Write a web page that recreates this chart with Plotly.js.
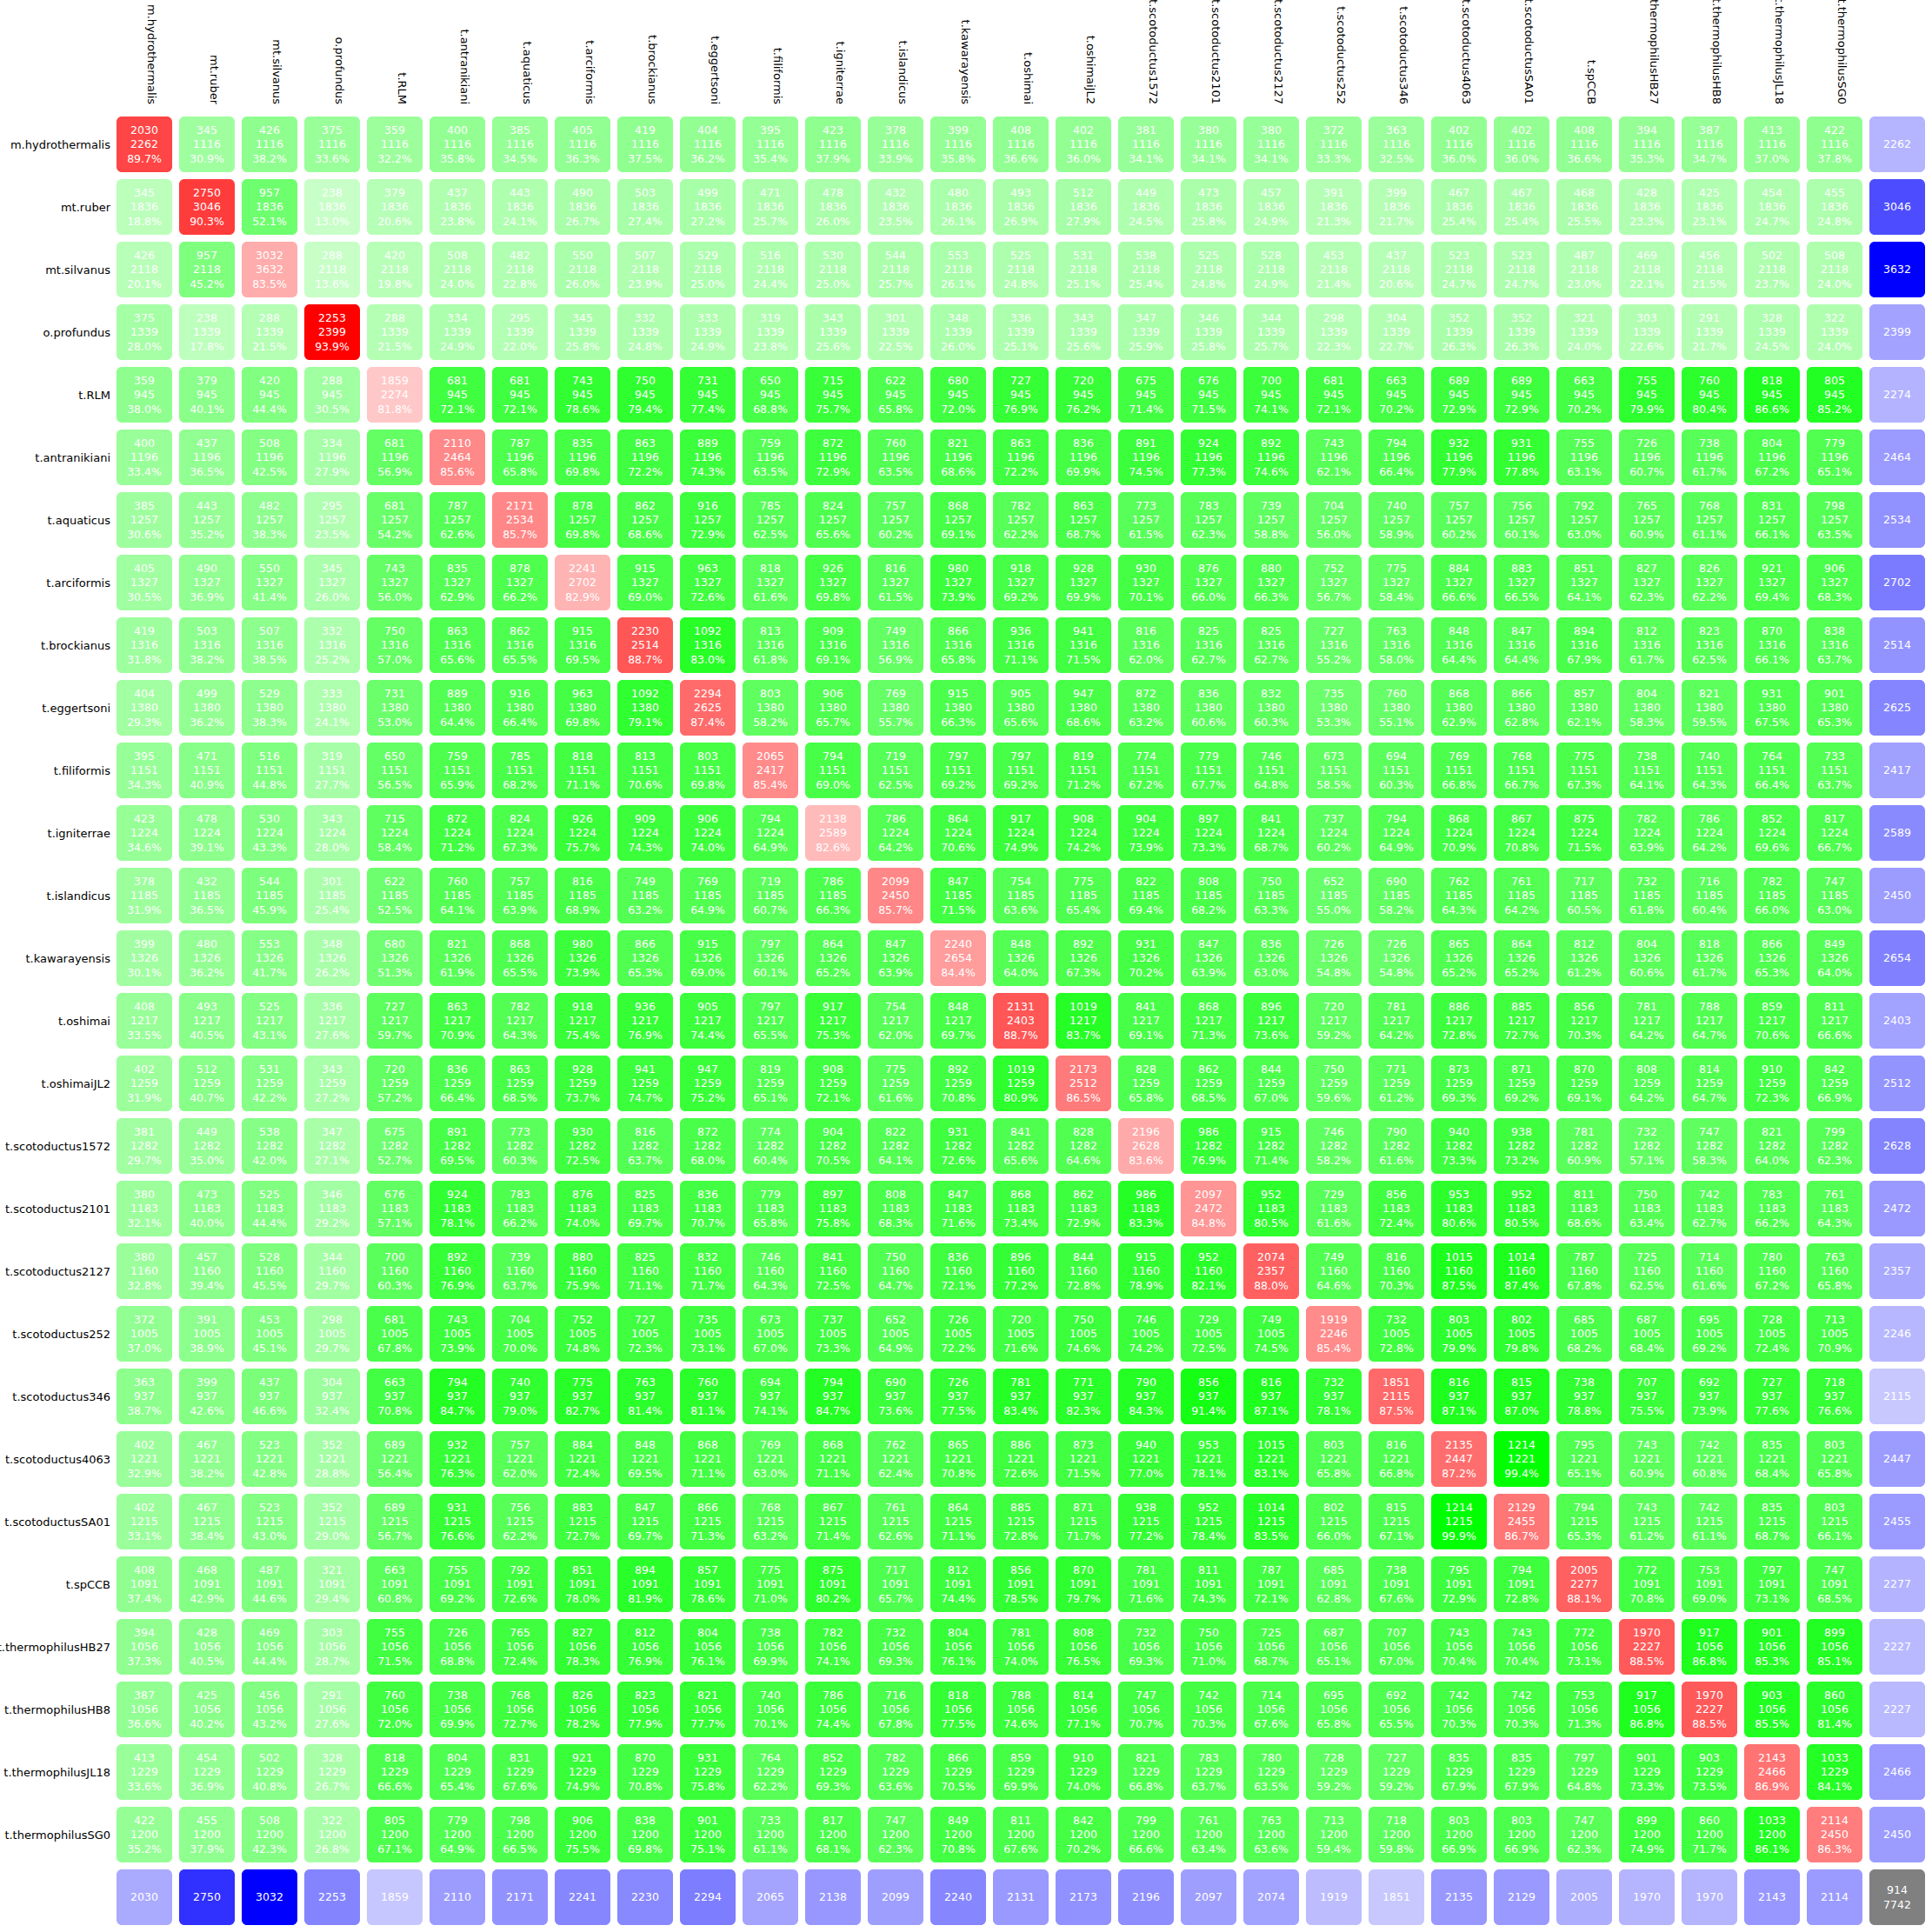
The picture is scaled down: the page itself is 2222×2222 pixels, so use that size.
<!DOCTYPE html>
<html><head><meta charset="utf-8">
<script src="https://cdn.plot.ly/plotly-3.0.1.min.js"></script>
<style>html,body{margin:0;padding:0;background:#fff}#chart{width:2222px;height:2222px}</style>
</head><body><div id="chart"></div>
<script>
const genomes = ["m.hydrothermalis","mt.ruber","mt.silvanus","o.profundus","t.RLM","t.antranikiani","t.aquaticus","t.arciformis","t.brockianus","t.eggertsoni","t.filiformis","t.igniterrae","t.islandicus","t.kawarayensis","t.oshimai","t.oshimaiJL2","t.scotoductus1572","t.scotoductus2101","t.scotoductus2127","t.scotoductus252","t.scotoductus346","t.scotoductus4063","t.scotoductusSA01","t.spCCB","t.thermophilusHB27","t.thermophilusHB8","t.thermophilusJL18","t.thermophilusSG0"];
// middle number of each off-diagonal cell (per row)
const rowGeneCounts = [1116,1836,2118,1339,945,1196,1257,1327,1316,1380,1151,1224,1185,1326,1217,1259,1282,1183,1160,1005,937,1221,1215,1091,1056,1056,1229,1200];
// right-hand totals column
const genomeTotals = [2262,3046,3632,2399,2274,2464,2534,2702,2514,2625,2417,2589,2450,2654,2403,2512,2628,2472,2357,2246,2115,2447,2455,2277,2227,2227,2466,2450];
// bottom totals row
const columnTotals = [2030,2750,3032,2253,1859,2110,2171,2241,2230,2294,2065,2138,2099,2240,2131,2173,2196,2097,2074,1919,1851,2135,2129,2005,1970,1970,2143,2114];
const cornerCore = 914;
const cornerPan = 7742;
const shared = [
[2030,345,426,375,359,400,385,405,419,404,395,423,378,399,408,402,381,380,380,372,363,402,402,408,394,387,413,422],
[345,2750,957,238,379,437,443,490,503,499,471,478,432,480,493,512,449,473,457,391,399,467,467,468,428,425,454,455],
[426,957,3032,288,420,508,482,550,507,529,516,530,544,553,525,531,538,525,528,453,437,523,523,487,469,456,502,508],
[375,238,288,2253,288,334,295,345,332,333,319,343,301,348,336,343,347,346,344,298,304,352,352,321,303,291,328,322],
[359,379,420,288,1859,681,681,743,750,731,650,715,622,680,727,720,675,676,700,681,663,689,689,663,755,760,818,805],
[400,437,508,334,681,2110,787,835,863,889,759,872,760,821,863,836,891,924,892,743,794,932,931,755,726,738,804,779],
[385,443,482,295,681,787,2171,878,862,916,785,824,757,868,782,863,773,783,739,704,740,757,756,792,765,768,831,798],
[405,490,550,345,743,835,878,2241,915,963,818,926,816,980,918,928,930,876,880,752,775,884,883,851,827,826,921,906],
[419,503,507,332,750,863,862,915,2230,1092,813,909,749,866,936,941,816,825,825,727,763,848,847,894,812,823,870,838],
[404,499,529,333,731,889,916,963,1092,2294,803,906,769,915,905,947,872,836,832,735,760,868,866,857,804,821,931,901],
[395,471,516,319,650,759,785,818,813,803,2065,794,719,797,797,819,774,779,746,673,694,769,768,775,738,740,764,733],
[423,478,530,343,715,872,824,926,909,906,794,2138,786,864,917,908,904,897,841,737,794,868,867,875,782,786,852,817],
[378,432,544,301,622,760,757,816,749,769,719,786,2099,847,754,775,822,808,750,652,690,762,761,717,732,716,782,747],
[399,480,553,348,680,821,868,980,866,915,797,864,847,2240,848,892,931,847,836,726,726,865,864,812,804,818,866,849],
[408,493,525,336,727,863,782,918,936,905,797,917,754,848,2131,1019,841,868,896,720,781,886,885,856,781,788,859,811],
[402,512,531,343,720,836,863,928,941,947,819,908,775,892,1019,2173,828,862,844,750,771,873,871,870,808,814,910,842],
[381,449,538,347,675,891,773,930,816,872,774,904,822,931,841,828,2196,986,915,746,790,940,938,781,732,747,821,799],
[380,473,525,346,676,924,783,876,825,836,779,897,808,847,868,862,986,2097,952,729,856,953,952,811,750,742,783,761],
[380,457,528,344,700,892,739,880,825,832,746,841,750,836,896,844,915,952,2074,749,816,1015,1014,787,725,714,780,763],
[372,391,453,298,681,743,704,752,727,735,673,737,652,726,720,750,746,729,749,1919,732,803,802,685,687,695,728,713],
[363,399,437,304,663,794,740,775,763,760,694,794,690,726,781,771,790,856,816,732,1851,816,815,738,707,692,727,718],
[402,467,523,352,689,932,757,884,848,868,769,868,762,865,886,873,940,953,1015,803,816,2135,1214,795,743,742,835,803],
[402,467,523,352,689,931,756,883,847,866,768,867,761,864,885,871,938,952,1014,802,815,1214,2129,794,743,742,835,803],
[408,468,487,321,663,755,792,851,894,857,775,875,717,812,856,870,781,811,787,685,738,795,794,2005,772,753,797,747],
[394,428,469,303,755,726,765,827,812,804,738,782,732,804,781,808,732,750,725,687,707,743,743,772,1970,917,901,899],
[387,425,456,291,760,738,768,826,823,821,740,786,716,818,788,814,747,742,714,695,692,742,742,753,917,1970,903,860],
[413,454,502,328,818,804,831,921,870,931,764,852,782,866,859,910,821,783,780,728,727,835,835,797,901,903,2143,1033],
[422,455,508,322,805,779,798,906,838,901,733,817,747,849,811,842,799,761,763,713,718,803,803,747,899,860,1033,2114]
];

const n = genomes.length, N = n + 1;
const idx = Array.from({length: N}, (_, i) => i);
const ratio = (a, b) => Math.round(a * 1000 / b) / 10;
const pctText = (a, b) => ratio(a, b).toFixed(1) + '%';

function grid(fn) {
  const z = [], t = [];
  for (let r = 0; r < N; r++) {
    const zr = [], tr = [];
    for (let c = 0; c < N; c++) {
      const res = fn(r, c);
      zr.push(res ? res[0] : null);
      tr.push(res ? res[1] : '');
    }
    z.push(zr); t.push(tr);
  }
  return {z, t};
}

const green = grid((r, c) => (r < n && c < n && r !== c) ?
  [shared[r][c] / rowGeneCounts[r], shared[r][c] + '<br>' + rowGeneCounts[r] + '<br>' + pctText(shared[r][c], rowGeneCounts[r])] : null);
const red = grid((r, c) => (r < n && r === c) ?
  [shared[r][r] / genomeTotals[r], shared[r][r] + '<br>' + genomeTotals[r] + '<br>' + pctText(shared[r][r], genomeTotals[r])] : null);
const blueCol = grid((r, c) => (r < n && c === n) ? [genomeTotals[r], String(genomeTotals[r])] : null);
const blueRow = grid((r, c) => (r === n && c < n) ? [columnTotals[c], String(columnTotals[c])] : null);
const gray = grid((r, c) => (r === n && c === n) ? [1, cornerCore + '<br>' + cornerPan] : null);

function range(g) {
  const v = g.z.flat().filter(x => x !== null);
  return [Math.min(...v), Math.max(...v)];
}

const FONT = 'DejaVu Sans, Verdana, sans-serif';
function hm(g, scale) {
  const [mn, mx] = range(g);
  return {
    type: 'heatmap', x: idx, y: idx, z: g.z, text: g.t,
    texttemplate: '%{text}', textfont: {family: FONT, size: 12.5, color: '#ffffff'},
    colorscale: scale, zmin: mn, zmax: mx === mn ? mn + 1 : mx,
    xgap: 8, ygap: 8, showscale: false, hoverinfo: 'skip'
  };
}

const traces = [
  hm(green, [[0, 'rgb(200,255,200)'], [1, 'rgb(0,255,0)']]),
  hm(red, [[0, 'rgb(255,200,200)'], [1, 'rgb(255,0,0)']]),
  hm(blueCol, [[0, 'rgb(200,200,255)'], [1, 'rgb(0,0,255)']]),
  hm(blueRow, [[0, 'rgb(200,200,255)'], [1, 'rgb(0,0,255)']]),
  hm(gray, [[0, 'rgb(128,128,128)'], [1, 'rgb(128,128,128)']])
];

// rounded-corner masks (white) for every cell
const PX = 72;                       // pixels per category step
const hw = 0.5 - 4 / PX;             // half width of a cell in axis units
const rr = 6 / PX;                   // corner radius in axis units
const k = 1 - 0.5523;
let path = '';
for (let r = 0; r < N; r++) {
  for (let c = 0; c < N; c++) {
    for (const [dx, dy] of [[1, 1], [-1, 1], [1, -1], [-1, -1]]) {
      const cx = c - dx * hw, cy = r - dy * hw;
      path += 'M' + cx + ',' + cy +
        'L' + (cx + dx * rr) + ',' + cy +
        'C' + (cx + dx * rr * k) + ',' + cy + ' ' + cx + ',' + (cy + dy * rr * k) + ' ' + cx + ',' + (cy + dy * rr) + 'Z';
    }
  }
}

const axisFont = {family: FONT, size: 13, color: '#000000'};
const layout = {
  width: 2222, height: 2222,
  margin: {l: 130, r: 4, t: 130, b: 4, pad: 0},
  paper_bgcolor: '#ffffff', plot_bgcolor: '#ffffff',
  showlegend: false,
  xaxis: {range: [-0.5, n + 0.5], side: 'top', tickmode: 'array', tickvals: idx.slice(0, n), ticktext: genomes,
    tickangle: 90, showgrid: false, zeroline: false, showline: false, ticks: '', tickfont: axisFont,
    ticklabelshift: 8, ticklabelstandoff: 7, fixedrange: true},
  yaxis: {range: [n + 0.5, -0.5], tickmode: 'array', tickvals: idx.slice(0, n), ticktext: genomes,
    showgrid: false, zeroline: false, showline: false, ticks: '', tickfont: axisFont,
    ticklabelstandoff: 2, fixedrange: true},
  shapes: [{type: 'path', xref: 'x', yref: 'y', path: path, fillcolor: '#ffffff', line: {width: 0}, layer: 'above'}]
};

Plotly.newPlot('chart', traces, layout, {displayModeBar: false, staticPlot: true});
</script>
</body></html>
